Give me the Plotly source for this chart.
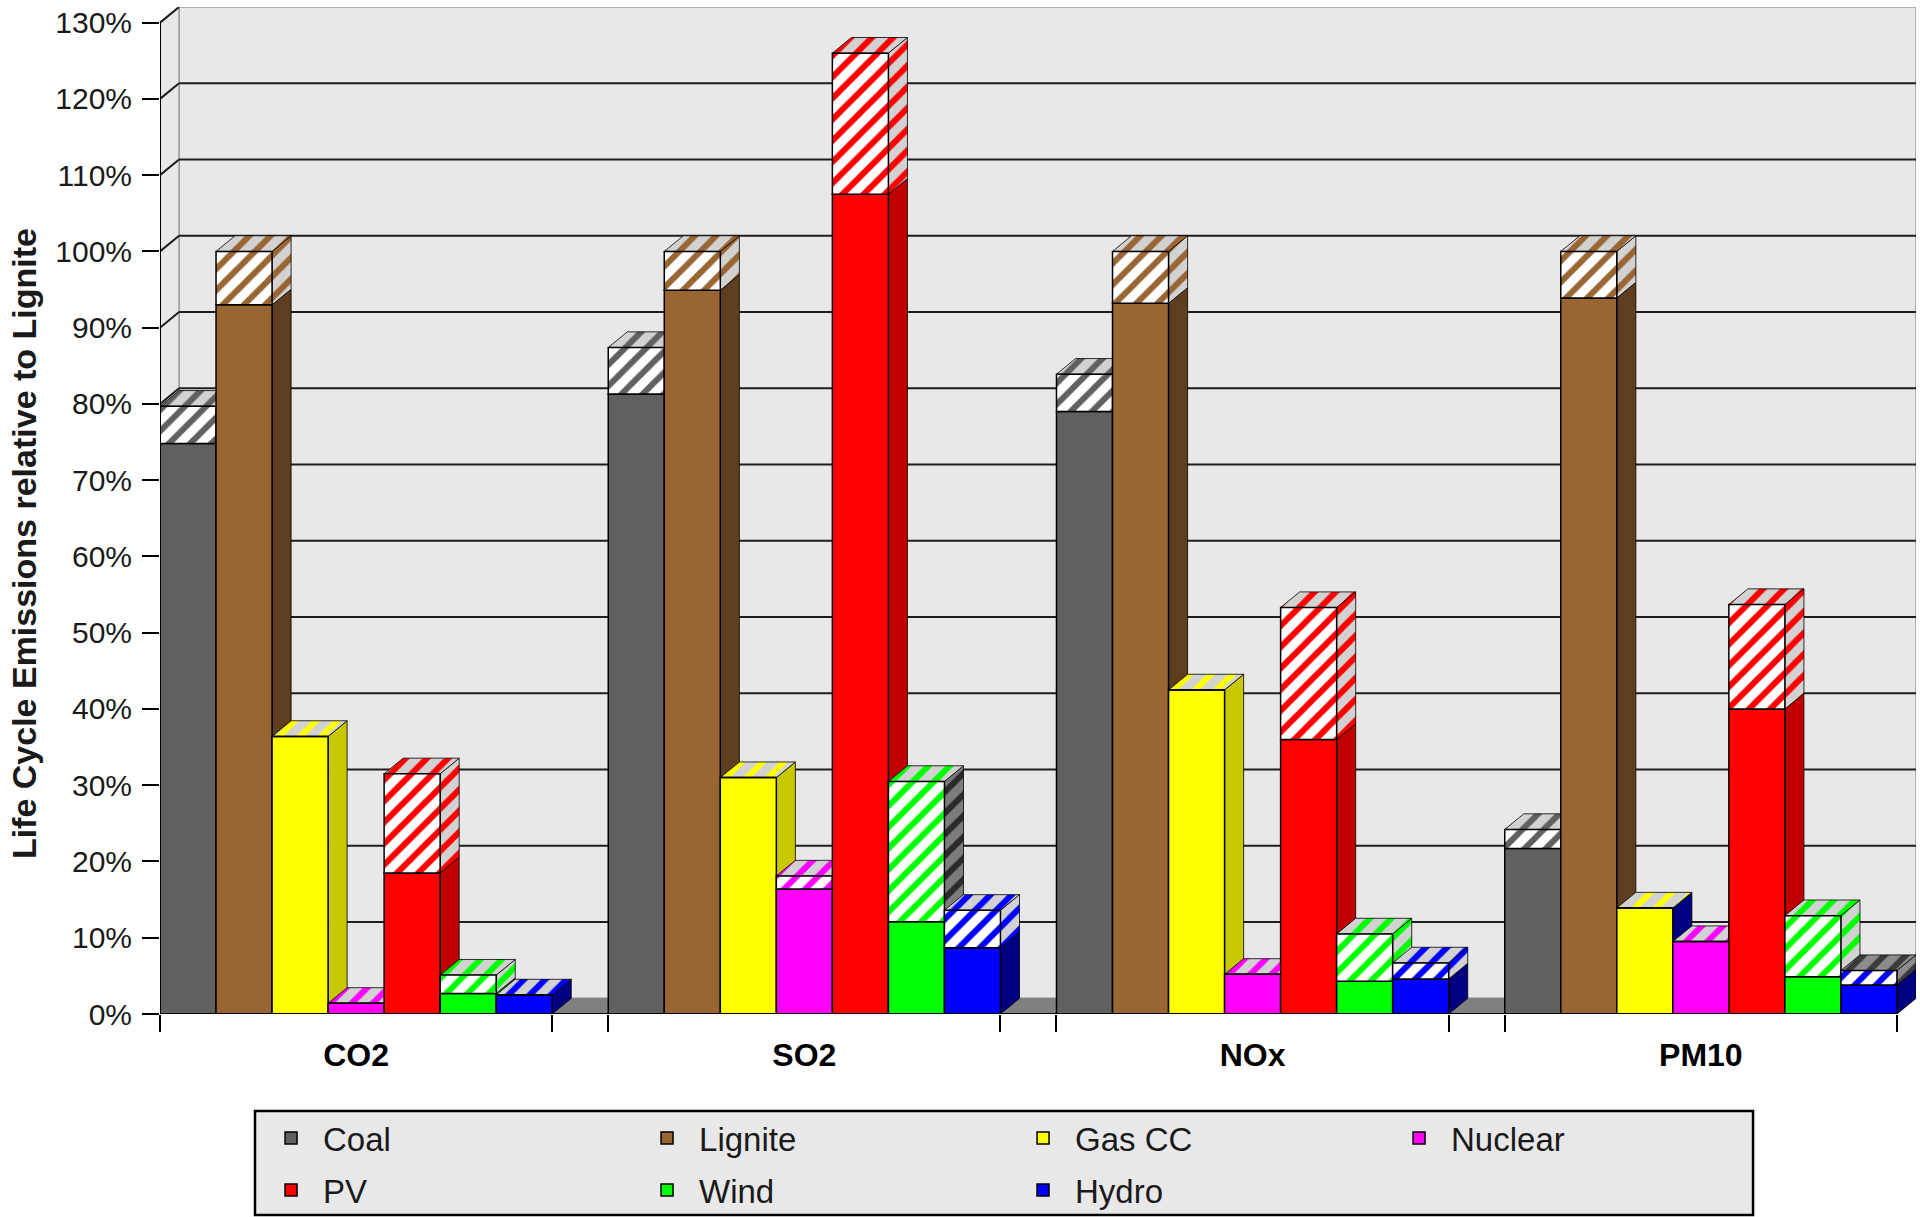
import plotly.graph_objects as go

# ---------------------------------------------------------------------------
# Data: life cycle emissions relative to lignite (%), lower and upper estimate
# ---------------------------------------------------------------------------
POLLUTANTS = ["CO2", "SO2", "NOx", "PM10"]
TECHNOLOGIES = ["Coal", "Lignite", "Gas CC", "Nuclear", "PV", "Wind", "Hydro"]

coal_low = [74.8, 81.3, 79.0, 21.7]
coal_high = [79.7, 87.4, 83.9, 24.2]
lignite_low = [93.0, 94.9, 93.2, 93.9]
lignite_high = [100.0, 100.0, 100.0, 100.0]
gas_low = [36.4, 31.0, 42.5, 13.9]
gas_high = [36.4, 31.0, 42.5, 13.9]
nuclear_low = [1.4, 16.4, 5.2, 9.5]
nuclear_high = [1.4, 18.1, 5.2, 9.5]
pv_low = [18.5, 107.5, 36.0, 40.0]
pv_high = [31.5, 126.0, 53.3, 53.7]
wind_low = [2.7, 12.1, 4.3, 4.9]
wind_high = [5.1, 30.5, 10.5, 12.9]
hydro_low = [2.5, 8.7, 4.6, 3.8]
hydro_high = [2.5, 13.6, 6.7, 5.7]

LOW = [coal_low, lignite_low, gas_low, nuclear_low, pv_low, wind_low, hydro_low]
HIGH = [coal_high, lignite_high, gas_high, nuclear_high, pv_high, wind_high, hydro_high]

Y_TICKS = list(range(0, 131, 10))
Y_TICK_LABELS = [f"{v}%" for v in Y_TICKS]

# ---------------------------------------------------------------------------
# Styling
# ---------------------------------------------------------------------------
FACE = ["#606060", "#996633", "#FFFF00", "#FF00FF", "#FF0000", "#00FF00", "#0000FF"]
SIDE = ["#404040", "#5E3E1F", "#C8C800", "#B000B0", "#C00000", "#00B000", "#000080"]
SHADE_BG = "#D2D2D2"
WALL = "#E8E8E8"
FONT = "Arial, Liberation Sans, sans-serif"

# a few faces are shaded differently from the rest of their series
SOLID_SIDE_OVERRIDE = {("PM10", "Gas CC"): "#000080"}
HATCH_SIDE_OVERRIDE = {("SO2", "Wind"): ("#7C7C7C", "#2A2A2A"),
                       ("PM10", "Hydro"): ("#8C8C8C", "#3A3A3A")}
TOP_OVERRIDE = {("PM10", "Hydro"): ("#8C8C8C", "#3A3A3A")}

SLOTS = 8            # 7 bars + one empty slot between pollutant groups
DX, DY = 0.34, 2.05  # depth of the pseudo-3D extrusion (x slots, y %)
Y_MAX = Y_TICKS[-1]
X_END = (len(POLLUTANTS) - 1) * SLOTS + len(TECHNOLOGIES)
X_RANGE = [0, X_END + DX]
Y_RANGE = [0, Y_MAX + DY]
STRIPE = dict(shape="/", size=15, solidity=0.4, fillmode="overlay", fgopacity=1)

fig = go.Figure()


def polygon(xs, ys, fill, line="black", lw=1.0, pattern=None, **kw):
    trace = go.Scatter(
        x=list(xs) + [xs[0]], y=list(ys) + [ys[0]],
        mode="lines", fill="toself", fillcolor=fill,
        line=dict(color=line, width=lw), hoverinfo="skip",
        showlegend=False, **kw)
    if pattern is not None:
        trace.fillpattern = pattern
    fig.add_trace(trace)


# walls and floor of the chart box
polygon([DX, X_END + DX, X_END + DX, DX], [DY, DY, Y_MAX + DY, Y_MAX + DY],
        WALL, line="#9C9C9C", lw=1.5)
polygon([0, DX, DX, 0], [0, DY, Y_MAX + DY, Y_MAX], WALL, line="#9C9C9C", lw=1.5)
polygon([0, X_END, X_END + DX, DX], [0, 0, DY, DY], "#808080", line="#808080", lw=0.5)

# grid on the back wall plus the connectors across the side wall
gx, gy = [], []
for v in Y_TICKS[1:]:
    if v < Y_MAX:
        gx += [DX, X_END + DX, None]
        gy += [v + DY, v + DY, None]
    gx += [0, DX, None]
    gy += [v, v + DY, None]
fig.add_trace(go.Scatter(x=gx, y=gy, mode="lines", line=dict(color="#1E1E1E", width=2),
                         hoverinfo="skip", showlegend=False))

# side and top faces, painted left to right so nearer faces cover farther ones
for g, pol in enumerate(POLLUTANTS):
    for t, tech in enumerate(TECHNOLOGIES):
        lo, hi = LOW[t][g], HIGH[t][g]
        x0 = g * SLOTS + t
        x1 = x0 + 1
        side = SOLID_SIDE_OVERRIDE.get((pol, tech), SIDE[t])
        polygon([x1, x1 + DX, x1 + DX, x1], [0, DY, lo + DY, lo], side, lw=0.8)
        if hi > lo:
            bg, fg = HATCH_SIDE_OVERRIDE.get((pol, tech), (SHADE_BG, FACE[t]))
            polygon([x1, x1 + DX, x1 + DX, x1], [lo, lo + DY, hi + DY, hi],
                    bg, lw=0.8, pattern=dict(STRIPE, fgcolor=fg, bgcolor=bg))
        bg, fg = TOP_OVERRIDE.get((pol, tech), (SHADE_BG, FACE[t]))
        polygon([x0, x1, x1 + DX, x0 + DX], [hi, hi, hi + DY, hi + DY],
                bg, lw=0.8, pattern=dict(STRIPE, fgcolor=fg, bgcolor=bg))

# front faces: solid lower estimate, hatched span up to the upper estimate
for t, tech in enumerate(TECHNOLOGIES):
    xs = [g * SLOTS + t + 0.5 for g in range(len(POLLUTANTS))]
    lows = LOW[t]
    spans = [h - l for h, l in zip(HIGH[t], LOW[t])]
    fig.add_trace(go.Bar(
        x=xs, y=lows, base=[0] * len(xs), width=1, name=tech,
        marker=dict(color=FACE[t], line=dict(color="black", width=1.5)),
        xaxis="x2", yaxis="y2", legend="legend" if t < 4 else "legend2",
        hovertemplate=tech + " %{y:.1f}%<extra></extra>"))
    fig.add_trace(go.Bar(
        x=xs, y=spans, base=lows, width=1, name=tech + " (upper)", showlegend=False,
        marker=dict(color="white", line=dict(color="black", width=1.5),
                    pattern=dict(STRIPE, fgcolor=FACE[t], bgcolor="white")),
        xaxis="x2", yaxis="y2", hoverinfo="skip"))

# front axis lines
fig.add_trace(go.Scatter(x=[0, 0, None, 0, X_END], y=[0, Y_MAX, None, 0, 0], mode="lines",
                         line=dict(color="black", width=2), cliponaxis=False,
                         xaxis="x2", yaxis="y2", hoverinfo="skip", showlegend=False))

group_centres = [g * SLOTS + len(TECHNOLOGIES) / 2 for g in range(len(POLLUTANTS))]
group_edges = []
for g in range(len(POLLUTANTS)):
    group_edges += [g * SLOTS, g * SLOTS + len(TECHNOLOGIES)]

legend_style = dict(orientation="h", x=0.0564, xanchor="left", yanchor="middle",
                    bgcolor="rgba(0,0,0,0)", borderwidth=0, itemwidth=54,
                    entrywidth=307, entrywidthmode="pixels",
                    font=dict(size=33, family=FONT, color="#1A1A1A"))

fig.update_layout(
    width=1920, height=1217,
    margin=dict(l=160, r=4, t=7, b=203, autoexpand=False),
    paper_bgcolor="white", plot_bgcolor="white",
    barmode="overlay",
    font=dict(family=FONT, color="black"),
    xaxis=dict(range=X_RANGE, tickvals=group_centres, ticktext=POLLUTANTS, ticks="",
               showgrid=False, zeroline=False, showline=False, fixedrange=True,
               tickfont=dict(size=32, weight="bold", color="black"), ticklabelstandoff=19,
               minor=dict(tickvals=group_edges, ticks="outside", ticklen=17, tickwidth=2,
                          tickcolor="black", showgrid=False)),
    yaxis=dict(range=Y_RANGE, tickvals=Y_TICKS, ticktext=Y_TICK_LABELS, ticks="outside",
               ticklen=17, tickwidth=2, tickcolor="black", showgrid=False, zeroline=False,
               showline=False, fixedrange=True, ticklabelstandoff=4,
               tickfont=dict(size=30, color="#1A1A1A")),
    xaxis2=dict(range=X_RANGE, overlaying="x", anchor="y2", visible=False, fixedrange=True),
    yaxis2=dict(range=Y_RANGE, overlaying="y", anchor="x2", visible=False, fixedrange=True),
    legend=dict(legend_style, y=-0.1231),
    legend2=dict(legend_style, y=-0.1748),
    shapes=[dict(type="rect", xref="paper", yref="paper", x0=0.0541, x1=0.9072,
                 y0=-0.1996, y1=-0.0963, fillcolor=WALL, line=dict(color="black", width=2.5),
                 layer="below")],
    annotations=[dict(text="Life Cycle Emissions relative to Lignite", textangle=-90,
                      xref="paper", yref="paper", x=-0.0774, y=0.4667, xanchor="center",
                      yanchor="middle", showarrow=False,
                      font=dict(size=34, weight="bold", family=FONT, color="#1A1A1A"))],
)

fig.write_html("out.html")
